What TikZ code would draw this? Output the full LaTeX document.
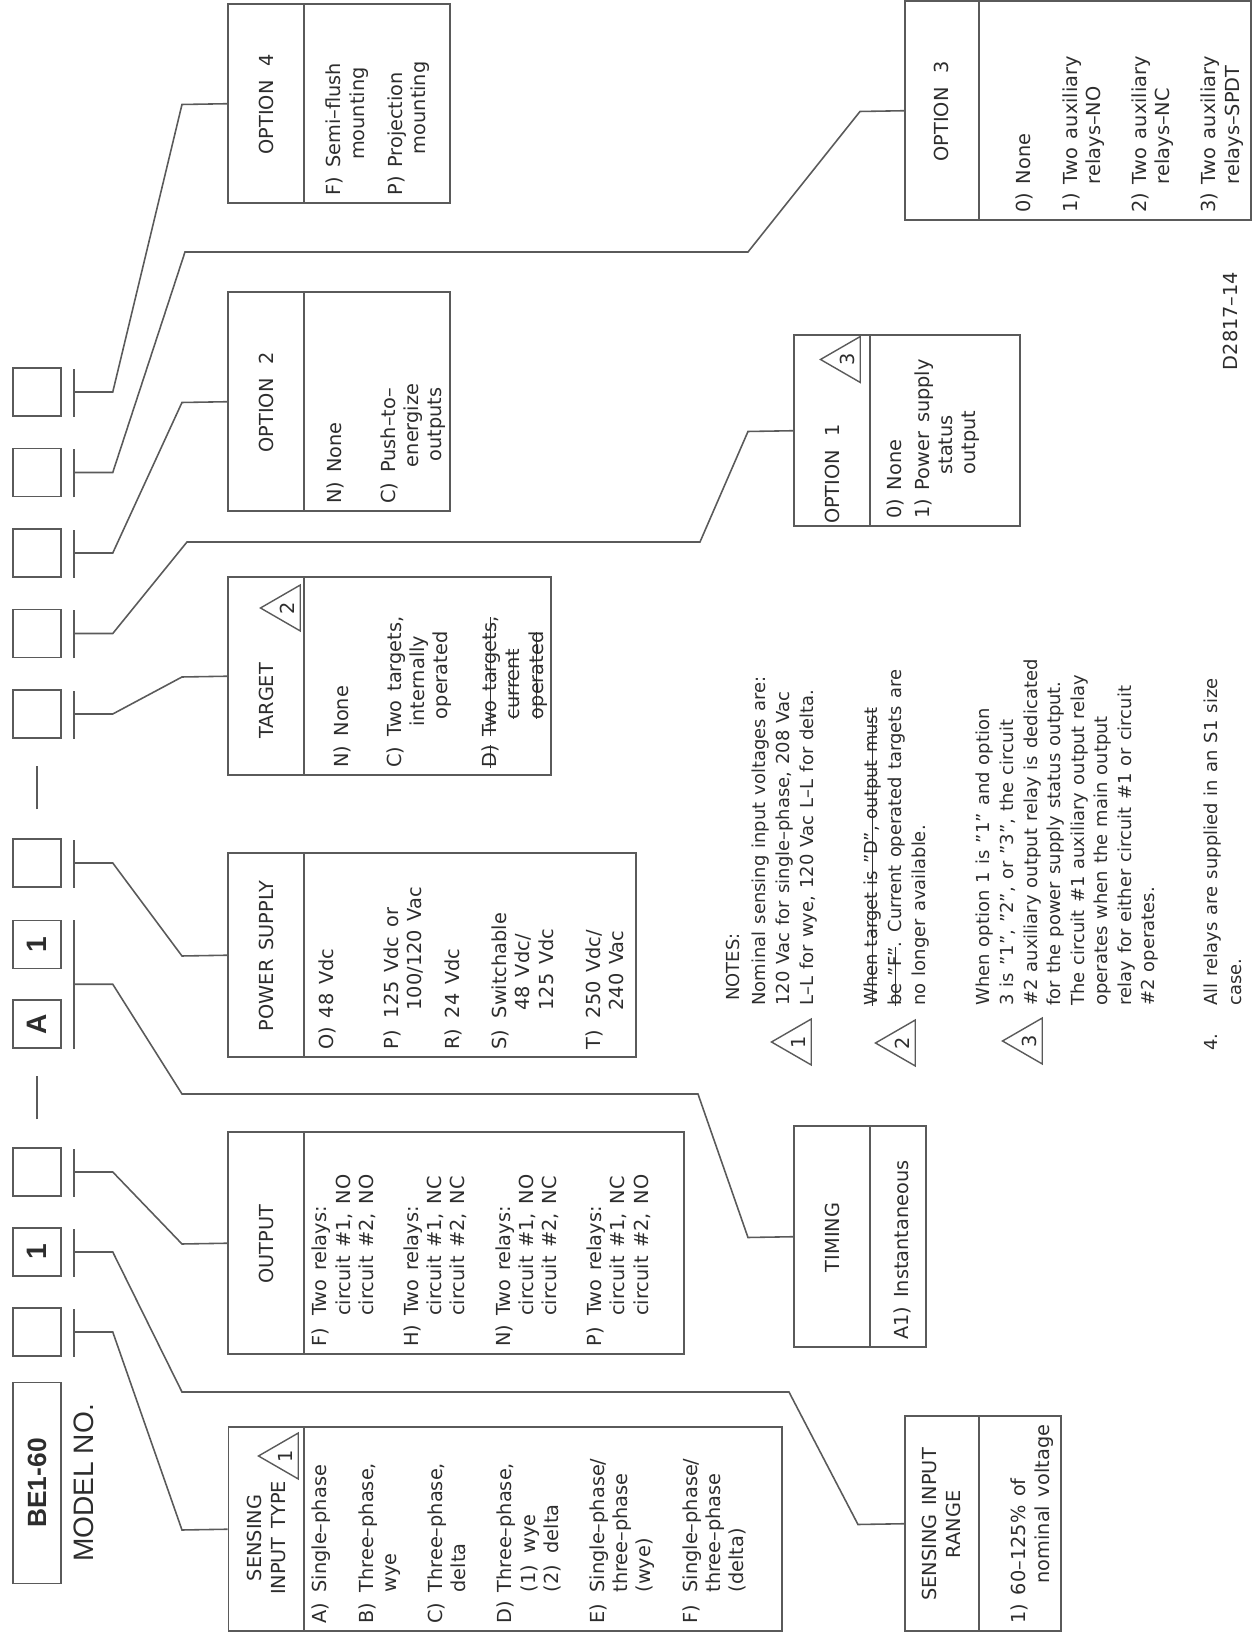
\documentclass[tikz,border=0pt]{standalone}
\usepackage{fontspec}
\setmainfont{DejaVu Sans}
\newfontfamily\arialfont{Liberation Sans}
\usetikzlibrary{shapes.geometric, calc}
\definecolor{ink}{RGB}{45,45,45}
\definecolor{rule}{RGB}{90,90,90}
\newlength\pxu
\setlength\pxu{0.02cm}
\newcommand\chartfont{\fontsize{11}{13.2}\selectfont\spaceskip=0.45em plus 0.1em\relax}
\newcommand\notefont{\fontsize{10.2}{13.4}\selectfont\spaceskip=0.4em plus 0.1em\relax}
\newcommand\strikeout[1]{\setbox0\hbox{#1}\rlap{\rule[0.3em]{\wd0}{0.6pt}}\box0}
\tikzset{
    card/.style={draw=rule, line width=0.9pt, inner sep=0pt, anchor=south west},
    digit/.style={draw=rule, line width=0.9pt, inner sep=0pt, minimum width=0.96cm, minimum height=0.96cm, text=ink, font=\arialfont\bfseries\fontsize{16}{16}\selectfont},
    head/.style={align=center, inner sep=0pt, text=ink, font=\chartfont},
    body/.style={anchor=base west, inner sep=0pt, text=ink, font=\chartfont},
    note/.style={anchor=base west, inner sep=0pt, text=ink, font=\notefont},
    flag/.style={draw=rule, line width=0.8pt, regular polygon, regular polygon sides=3, minimum size=1.06cm, inner sep=0pt, text=ink, font=\fontsize{11}{11}\selectfont},
    wire/.style={draw=rule, line width=0.9pt}
}

\begin{document}
\begin{tikzpicture}[x=0.02cm, y=0.02cm, rotate=90, transform shape]
\useasboundingbox (0,0) rectangle (1637,1256);

% model number
\node[digit, minimum width=4.02cm, font=\arialfont\bfseries\fontsize{15}{15}\selectfont] (model) at (154,1219) {BE1-60};
\node[inner sep=0pt, text=ink, font=\arialfont\fontsize{16}{16}\selectfont] (modelno) at (154,1172) {MODEL NO.};
\foreach \n/\x/\t in {m1/305/, m2/385/1, m3/465/, mA/613/A, m5/692.5/1, m6/774/, m7/923/, m8/1003.5/, m9/1084/, m10/1164.5/, m11/1245/}
  \node[digit] (\n) at (\x,1219) {\t};
\foreach \n in {m1, m2, m3, m6, m7, m8, m9, m10, m11}
  \draw[wire] (\n.south west) ++(0,-12) -- ++(48,0);
\draw[wire] (mA.south west) ++(0,-12) -- ($(m5.south east)+(0,-12)$);
\draw[wire] (517.5,1219) -- (560.5,1219);
\draw[wire] (827.5,1219) -- (870.5,1219);

% option cards
\node[card, minimum width=3.98cm, minimum height=4.44cm] (opt4) at (1433,805) {};
\node[card, minimum width=4.38cm, minimum height=6.92cm] (opt3) at (1416,4) {};
\node[card, minimum width=4.38cm, minimum height=4.44cm] (opt2) at (1125,805) {};
\node[card, minimum width=3.82cm, minimum height=4.52cm] (opt1) at (1110,235) {};
\node[card, minimum width=3.96cm, minimum height=6.46cm] (target) at (861,704) {};
\node[card, minimum width=4.08cm, minimum height=8.16cm] (power) at (579,619) {};
\node[card, minimum width=4.42cm, minimum height=2.64cm] (timing) at (289,329) {};
\node[card, minimum width=4.44cm, minimum height=9.12cm] (output) at (282,571) {};
\node[card, minimum width=4.30cm, minimum height=3.12cm] (range) at (5,194) {};
\node[card, minimum width=4.08cm, minimum height=11.08cm] (type) at (5,473) {};
\foreach \a/\b/\y in {1433/1632/952, 1416/1635/277, 1125/1344/952, 1110/1301/386, 861/1059/952, 579/783/952, 289/510/386, 282/504/952, 5/220/277, 5/209/952}
  \draw[wire] (\a,\y) -- (\b,\y);

% headings
\node[head] (opt4h) at (1532.5,989.5) {OPTION\hspace{0.7em}4};
\node[head] (opt3h) at (1525.5,314.5) {OPTION\hspace{0.7em}3};
\node[head] (opt2h) at (1234.5,989.5) {OPTION\hspace{0.7em}2};
\node[head] (opt1h) at (1163,423.5) {OPTION\hspace{0.7em}1};
\node[head] (targeth) at (936,989.5) {TARGET};
\node[head] (powerh) at (681,989.5) {POWER SUPPLY};
\node[head] (timingh) at (399.5,423.5) {TIMING};
\node[head] (outputh) at (393,989.5) {OUTPUT};
\node[head] (rangeh) at (112.5,314.5) {SENSING INPUT\\RANGE};
\node[head] (typeh) at (99,989.5) {SENSING\\INPUT TYPE};
\node[flag] (typef) at (181,971) {1};
\node[flag] (targetf) at (1029,969) {2};
\node[flag] (opt1f) at (1277.5,409) {3};

% choices
\node[body] (opt4b) at (1441,915) {\begin{tabular}[t]{@{}l@{\hspace{5pt}}l@{}}
  F) & Semi--flush\\ & \hspace{0.4em}mounting\\[15\pxu]
  P) & Projection\\ & \hspace{0.7em}mounting\end{tabular}};
\node[body] (opt3b) at (1424,225) {\begin{tabular}[t]{@{}l@{\hspace{5pt}}l@{}}
  0) & None\\[23\pxu]
  1) & Two auxiliary\\ & relays--NO\\[23\pxu]
  2) & Two auxiliary\\ & relays--NC\\[23\pxu]
  3) & Two auxiliary\\ & relays--SPDT\end{tabular}};
\node[body] (opt2b) at (1133,914) {\begin{tabular}[t]{@{}l@{\hspace{5pt}}l@{}}
  N) & None\\[30\pxu]
  C) & Push--to--\\ & \hspace{0.3em}energize\\ & \hspace{0.6em}outputs\end{tabular}};
\node[body] (opt1b) at (1118,354) {\begin{tabular}[t]{@{}l@{\hspace{5pt}}l@{}}
  0) & None\\[4\pxu]
  1) & Power supply\\ & \hspace{0.8em}status\\ & \hspace{0.8em}output\end{tabular}};
\node[body] (targetb) at (869,907) {\begin{tabular}[t]{@{}l@{\hspace{5pt}}l@{}}
  N) & None\\[29\pxu]
  C) & Two targets,\\ & \hspace{0.5em}internally\\ & \hspace{0.9em}operated\\[26\pxu]
  \strikeout{D)} & \strikeout{Two targets,}\\ & \hspace{0.9em}\strikeout{current}\\ & \hspace{0.9em}\strikeout{operated}\end{tabular}};
\node[body] (powerb) at (587,922) {\begin{tabular}[t]{@{}l@{\hspace{5pt}}l@{}}
  O) & 48 Vdc\\[41\pxu]
  P) & 125 Vdc or\\ & \hspace{0.4em}100/120 Vac\\[15\pxu]
  R) & 24 Vdc\\[24\pxu]
  S) & Switchable\\ & \hspace{0.4em}48 Vdc/\\ & \hspace{0.4em}125 Vdc\\[24\pxu]
  T) & 250 Vdc/\\ & \hspace{0.4em}240 Vac\end{tabular}};
\node[body] (timingb) at (297,347) {\begin{tabular}[t]{@{}l@{\hspace{5pt}}l@{}}
  A1) & Instantaneous\end{tabular}};
\node[body] (outputb) at (290,929) {\begin{tabular}[t]{@{}l@{\hspace{5pt}}l@{}}
  F) & Two relays:\\ & circuit \#1, NO\\ & circuit \#2, NO\\[22\pxu]
  H) & Two relays:\\ & circuit \#1, NC\\ & circuit \#2, NC\\[22\pxu]
  N) & Two relays:\\ & circuit \#1, NO\\ & circuit \#2, NC\\[22\pxu]
  P) & Two relays:\\ & circuit \#1, NC\\ & circuit \#2, NO\end{tabular}};
\node[body] (rangeb) at (13,230) {\begin{tabular}[t]{@{}l@{\hspace{5pt}}l@{}}
  1) & 60--125\% of\\ & \hspace{0.6em}nominal voltage\end{tabular}};
\node[body] (typeb) at (13,929) {\begin{tabular}[t]{@{}l@{\hspace{5pt}}l@{}}
  A) & Single--phase\\[23\pxu]
  B) & Three--phase,\\ & wye\\[23\pxu]
  C) & Three--phase,\\ & delta\\[23\pxu]
  D) & Three--phase,\\ & (1)\hspace{0.6em}wye\\ & (2)\hspace{0.6em}delta\\[23\pxu]
  E) & Single--phase/\\ & three--phase\\ & (wye)\\[23\pxu]
  F) & Single--phase/\\ & three--phase\\ & (delta)\end{tabular}};

% leaders from the model number
\draw[wire] (m11.south) ++(0,-12) -- ++(0,-39) -- (1532.5,1074) -- (opt4.north);
\draw[wire] (m10.south) ++(0,-12) -- ++(0,-39) -- (1385,1071) -- (1385,508) -- (1525.5,396) -- (opt3.north);
\draw[wire] (m9.south) ++(0,-12) -- ++(0,-39) -- (1234.5,1074) -- (opt2.north);
\draw[wire] (m8.south) ++(0,-12) -- ++(0,-39) -- (1095,1069) -- (1095,556) -- (1205.5,508) -- (opt1.north);
\draw[wire] (m7.south) ++(0,-12) -- ++(0,-39) -- (960,1074) -- (target.north);
\draw[wire] (m6.south) ++(0,-12) -- ++(0,-39) -- (681,1074) -- (power.north);
\draw[wire] ($(mA.south)!0.5!(m5.south)+(0,-12)$) -- ++(0,-39) -- (543,1074) -- (543,558) -- (399.5,508) -- (timing.north);
\draw[wire] (m3.south) ++(0,-12) -- ++(0,-39) -- (393,1074) -- (output.north);
\draw[wire] (m2.south) ++(0,-12) -- ++(0,-39) -- (245,1074) -- (245,467) -- (112.5,398) -- (range.north);
\draw[wire] (m1.south) ++(0,-12) -- ++(0,-39) -- (107,1074) -- (type.north);

% notes
\node[note] (notes) at (636,516) {NOTES:};
\node[flag] (n1f) at (595,458) {1};
\node[note] (n1) at (631,490) {\begin{tabular}[t]{@{}l@{}}
  Nominal sensing input voltages are:\\
  120 Vac for single--phase, 208 Vac\\
  L--L for wye, 120 Vac L--L for delta.\end{tabular}};
\node[flag] (n2f) at (594,354) {2};
\node[note] (n2) at (631,378) {\begin{tabular}[t]{@{}l@{}}
  \strikeout{When target is "D", output must}\\
  \strikeout{be "F"}. Current operated targets are\\
  no longer available.\end{tabular}};
\node[flag] (n3f) at (596,227) {3};
\node[note] (n3) at (631,266) {\begin{tabular}[t]{@{}l@{}}
  When option 1 is "1" and option\\
  3 is "1", "2", or "3", the circuit\\
  \#2 auxiliary output relay is dedicated\\
  for the power supply status output.\\
  The circuit \#1 auxiliary output relay\\
  operates when the main output\\
  relay for either circuit \#1 or circuit\\
  \#2 operates.\end{tabular}};
\node[note] (n4num) at (586,38) {4.};
\node[note] (n4) at (631,38) {\begin{tabular}[t]{@{}l@{}}
  All relays are supplied in an S1 size\\
  case.\end{tabular}};
\node[head] (dwg) at (1316,26) {D2817--14};
\end{tikzpicture}
\end{document}
